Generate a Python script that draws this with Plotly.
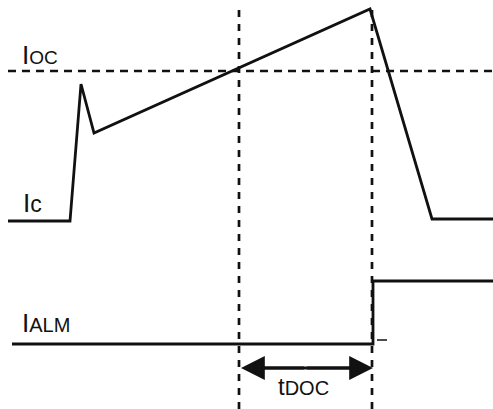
import plotly.graph_objects as go

# Timing diagram data (time in arbitrary units, level in arbitrary units)
t_ic = [8, 70, 81, 94, 370, 432, 493]
ic_level = [188, 188, 325, 276, 400, 190, 190]

t_alm = [12, 373, 373, 493]
alm_level = [65, 65, 128, 128]

ioc_t = [8, 493]
ioc_value = 338

t_cross = 239      # time Ic crosses IOC
t_trip = 372       # alarm trip time
v_span = [0, 404]  # vertical extent of dashed time markers
arrow_level = 41

tick_t = [377, 387]   # small mark right of the alarm step
tick_level = [69, 69]

labels = ["I<span style='font-size:19px'>OC</span>",
          "I<span style='font-size:23px'>c</span>",
          "I<span style='font-size:20px'>ALM</span>",
          "<span style='font-size:24px'>t</span>DOC"]
label_size = [26, 26, 26, 20]
label_t = [19.5, 20.5, 20, 276]
label_y = [354, 206, 86, 23]

ink = "#111111"
fig = go.Figure()

# dashed reference lines
fig.add_trace(go.Scatter(x=ioc_t, y=[ioc_value, ioc_value], mode="lines",
                         line=dict(color=ink, width=2.5, dash="8px,6px"), hoverinfo="skip"))
for tv in (t_cross, t_trip):
    fig.add_trace(go.Scatter(x=[tv, tv], y=v_span, mode="lines",
                             line=dict(color=ink, width=2.7, dash="7px,7px"), hoverinfo="skip"))

# signals
fig.add_trace(go.Scatter(x=t_ic, y=ic_level, mode="lines",
                         line=dict(color=ink, width=2.8), hoverinfo="skip"))
fig.add_trace(go.Scatter(x=t_alm, y=alm_level, mode="lines",
                         line=dict(color=ink, width=2.8), hoverinfo="skip"))
fig.add_trace(go.Scatter(x=tick_t, y=tick_level, mode="lines",
                         line=dict(color=ink, width=1.5), hoverinfo="skip"))

# tDOC double arrow: shaft plus two heads
fig.add_trace(go.Scatter(x=[t_cross + 8, t_trip - 8], y=[arrow_level, arrow_level], mode="lines",
                         line=dict(color=ink, width=2.8), hoverinfo="skip"))
mid = (t_cross + t_trip) / 2
for end in (t_cross + 2, t_trip + 1):
    fig.add_annotation(x=end, y=arrow_level, ax=mid, ay=arrow_level,
                       xref="x", yref="y", axref="x", ayref="y",
                       showarrow=True, arrowhead=2, arrowsize=1.7, arrowwidth=2.8,
                       arrowcolor=ink, standoff=0, startstandoff=0, text="")

for txt, sz, tx, ty in zip(labels, label_size, label_t, label_y):
    fig.add_annotation(x=tx, y=ty, xref="x", yref="y", text=txt, showarrow=False,
                       font=dict(family="Liberation Sans, Arial", size=sz, color=ink),
                       xanchor="left", yanchor="middle")

fig.update_layout(
    width=493, height=409,
    margin=dict(l=0, r=0, t=0, b=0),
    paper_bgcolor="white", plot_bgcolor="white",
    showlegend=False,
    xaxis=dict(range=[0, 493], visible=False, fixedrange=True),
    yaxis=dict(range=[0, 409], visible=False, fixedrange=True),
)

fig.write_html("out.html", config={"displayModeBar": False},
               post_script="document.body.style.margin='0px';")
